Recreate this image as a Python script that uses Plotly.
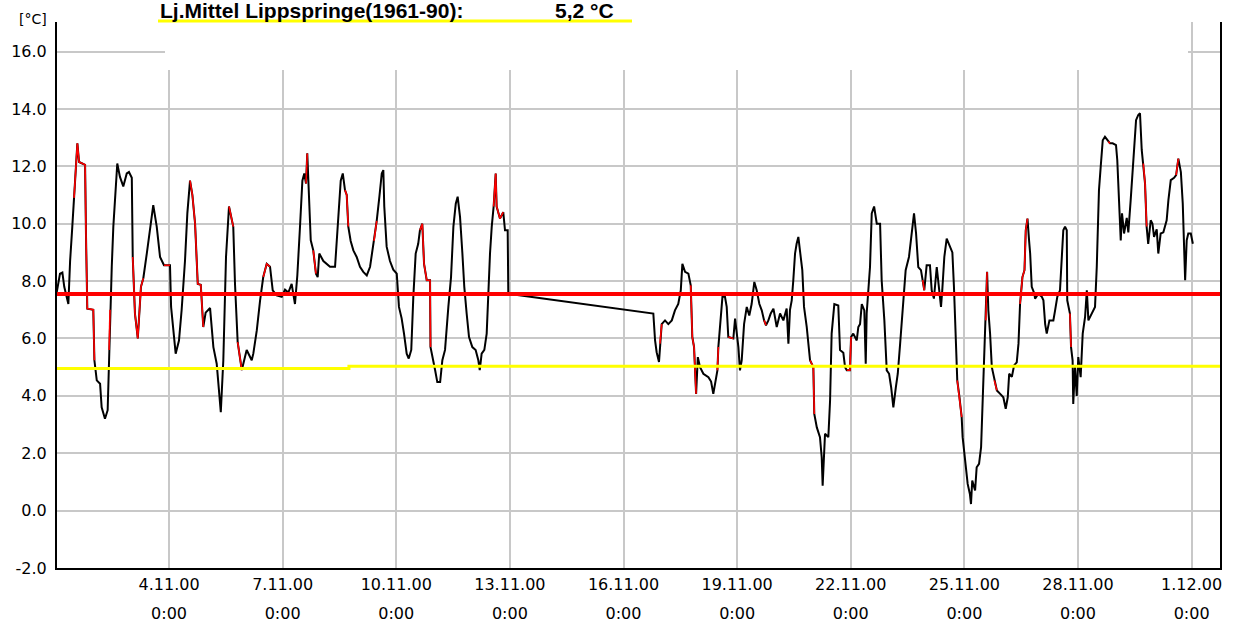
import pandas as pd
import plotly.graph_objects as go

START = pd.Timestamp("2000-11-01 00:00")
X_RANGE = ["2000-11-01 01:00", "2000-12-01 18:00"]
Y_RANGE = [-2.0, 17.03]

# hourly temperature record: hours after 1.11.2000 0:00
hours = [
    0.8, 2.9, 4.4, 5.6, 8.2, 9.3, 10.7, 11.8, 12.9, 13.9,
    15.0, 18.8, 19.4, 20.2, 24.0, 24.7, 26.2, 28.3, 29.3, 31.4,
    33.1, 34.0, 34.6, 35.7, 36.7, 37.8, 39.2, 40.9, 43.0, 45.2,
    46.6, 48.4, 49.0, 50.4, 52.2, 54.2, 55.7, 57.9, 60.4, 62.0,
    64.2, 66.3, 68.8, 72.6, 73.3, 75.2, 76.2, 78.3, 80.0, 82.1,
    83.6, 85.3, 86.8, 88.5, 90.2, 92.1, 93.7, 95.2, 98.0, 100.1,
    102.2, 104.8, 106.4, 108.1, 110.0, 112.7, 113.8, 115.5, 118.1, 121.2,
    124.4,
    125.4, 127.6, 129.7, 131.7, 133.9, 136.0, 137.7, 140.2, 143.4, 145.5,
    147.6, 149.7, 151.8, 153.3, 155.0, 156.5, 157.7, 158.8, 159.6, 160.9,
    161.8, 163.4, 165.1, 166.2, 167.2, 169.8, 171.9, 174.0, 177.2, 178.3,
    179.3, 180.8, 182.1, 183.5, 184.6, 185.6, 187.1, 188.8, 190.9, 193.0,
    195.1, 197.3, 199.4, 201.9, 203.6, 205.3, 206.8, 207.8, 208.4, 209.9,
    212.0, 214.1, 216.3, 217.7, 219.4, 220.9, 222.6, 223.9, 225.5, 226.8,
    228.3, 229.9, 231.0, 232.5, 233.6, 235.3, 237.4, 237.7, 239.1, 240.6,
    242.0, 243.8, 245.2, 246.9,
    249.0, 250.7, 252.2, 253.7, 254.9, 256.4, 257.9, 259.1, 260.6, 262.1,
    264.2, 266.3, 268.0, 268.9, 270.1, 271.8, 273.3, 274.3, 275.4, 276.5,
    277.7, 279.0, 279.6, 281.7, 283.8, 284.9, 286.6, 287.0,
    378.9, 380.0, 381.0, 382.5, 383.1, 384.2, 386.3, 388.4, 390.6, 392.6,
    394.7, 396.3, 397.3, 399.0, 401.1, 402.6, 403.6, 404.7, 406.0, 407.1,
    408.5, 410.6, 413.8, 415.5, 416.9, 418.5, 419.5, 420.1, 421.2, 422.7,
    424.3, 425.4, 426.4, 429.6, 430.7, 432.8, 433.8, 434.9, 436.4, 438.1,
    439.7, 441.2, 442.9, 444.4, 446.1, 447.6, 449.1, 450.3, 451.8, 453.3,
    455.0, 457.1, 459.2, 461.3, 463.4, 464.5, 465.5, 466.6, 467.6, 468.7,
    469.7, 470.8, 471.8, 473.3, 474.4, 476.1, 478.2, 480.3, 480.9, 482.5,
    484.5, 485.6, 486.2, 487.7, 489.8, 490.9, 491.9, 493.6, 496.1,
    497.2, 499.3, 500.4, 501.5, 503.5, 504.2, 505.6, 507.8, 508.8, 509.9,
    511.0, 512.6, 513.5, 514.1, 516.2, 517.3, 518.8, 520.5, 522.6, 523.6,
    525.3, 526.8, 528.3, 529.6, 531.0, 532.6, 533.8, 535.3, 537.4, 538.8,
    540.9, 542.6, 544.1, 545.4, 546.8, 548.5, 549.6, 550.6, 552.1, 554.2,
    555.3, 556.7, 558.5, 559.9, 561.2, 562.0, 563.3, 564.8, 566.9, 568.4,
    569.4, 570.5, 571.5, 572.8, 574.3, 574.9, 576.4, 578.1, 579.5, 580.2,
    581.0, 582.8, 583.8, 585.3, 586.6, 587.4, 588.5, 589.6, 590.4, 591.2,
    592.3, 593.4, 595.0, 596.6, 598.7, 600.7, 602.2, 603.5, 604.4, 606.1,
    607.5, 609.2, 610.3, 611.3, 612.8, 614.1, 614.9, 616.0, 617.0, 617.7,
    618.7, 620.4,
    620.8, 622.9, 625.1, 626.1, 627.2, 628.2, 629.9, 632.4, 633.5, 634.9,
    636.6, 637.7, 638.7, 639.8, 640.9, 641.2, 642.9, 643.6, 644.6, 645.0,
    646.1, 647.2, 648.2, 649.7, 651.0, 652.5, 653.6, 654.6, 656.7, 658.8,
    659.9, 661.3, 662.4, 663.7, 665.1, 667.2, 668.3, 670.0, 672.1, 672.9,
    674.2, 675.1, 675.9, 677.2, 678.9, 679.9, 681.4, 683.0, 684.8, 686.2,
    687.3, 688.4, 689.4, 690.5, 691.5, 692.5, 694.1, 695.2, 696.2, 697.9,
    698.9, 700.4, 702.1, 704.2, 705.3, 706.8, 708.9, 710.2, 711.6, 713.2,
    714.4, 715.2, 715.9, 716.9, 717.9, 719.5, 720.8,
]

temps = [
    7.6, 8.26, 8.3, 7.8, 7.2, 8.7, 9.9, 10.9, 11.9, 12.8,
    12.15, 12.05, 9.5, 7.04, 7.0, 5.24, 4.54, 4.42, 3.6, 3.2,
    3.5, 5.6, 7.0, 8.5, 9.9, 10.76, 12.1, 11.63, 11.3, 11.75,
    11.8, 11.6, 8.84, 6.87, 6.0, 7.8, 8.1, 8.96, 10.1, 10.65,
    9.9, 8.84, 8.55, 8.55, 7.1, 6.05, 5.47, 5.93, 7.0, 8.7,
    10.36, 11.5, 11.0, 10.0, 7.9, 7.87, 6.4, 6.9, 7.06, 5.7,
    5.12, 3.43, 5.24, 8.84, 10.6, 9.9, 7.9, 5.87, 4.9, 5.6,
    5.24,
    5.47, 6.28, 7.33, 8.14, 8.6, 8.5, 7.68, 7.5, 7.45, 7.7,
    7.6, 7.9, 7.2, 8.2, 9.9, 11.5, 11.75, 11.4, 12.45, 10.94,
    9.42, 9.07, 8.26, 8.14, 8.96, 8.7, 8.6, 8.5, 8.5, 9.5,
    10.47, 11.5, 11.75, 11.17, 11.0, 9.9, 9.4, 9.07, 8.84, 8.5,
    8.32, 8.2, 8.5, 9.4, 10.1, 10.94, 11.75, 11.87, 10.6, 9.2,
    8.7, 8.4, 8.26, 7.1, 6.7, 6.17, 5.47, 5.3, 5.6, 7.45,
    8.96, 9.3, 9.77, 10.0, 8.6, 8.03, 8.03, 5.7, 5.35, 4.9,
    4.48, 4.48, 5.24, 5.6,
    7.1, 8.14, 9.9, 10.7, 10.94, 10.24, 8.96, 7.8, 6.87, 6.05,
    5.7, 5.6, 5.24, 4.9, 5.47, 5.6, 6.17, 7.56, 8.96, 9.9,
    10.6, 11.75, 10.6, 10.18, 10.4, 9.77, 9.77, 7.56,
    6.87, 5.93, 5.52, 5.18, 5.82, 6.5, 6.63, 6.5, 6.63, 6.98,
    7.2, 7.68, 8.6, 8.32, 8.26, 7.85, 6.05, 5.7, 4.07, 5.35,
    5.0, 4.77, 4.65, 4.5, 4.07, 4.54, 4.89, 5.7, 6.5, 7.45,
    7.45, 7.1, 6.05, 6.0, 6.69, 5.7, 4.89, 5.24, 6.5, 7.1,
    6.8, 7.2, 7.97, 7.68, 7.2, 6.98, 6.63, 6.46, 6.63, 6.87,
    7.04, 6.4, 6.87, 6.63, 7.04, 5.82, 7.0, 7.33, 8.03, 8.96,
    9.3, 9.54, 9.07, 8.38, 7.1, 6.4, 5.24, 5.0, 3.37, 2.9,
    2.56, 1.86, 0.87, 2.68, 2.56, 3.84, 6.17, 7.2, 7.15,
    5.6, 5.5, 5.0, 4.89, 4.89, 6.05, 6.17, 5.93, 6.4, 6.5,
    7.2, 6.98, 5.12, 6.87, 8.49, 10.36, 10.6, 10.0, 10.0, 8.03,
    6.63, 4.89, 4.77, 4.3, 3.6, 4.3, 4.77, 5.82, 7.2, 8.38,
    8.84, 9.66, 10.36, 9.66, 8.49, 8.38, 8.03, 7.68, 8.55, 8.55,
    7.68, 7.39, 8.49, 7.68, 7.1, 7.68, 8.84, 9.48, 9.19, 9.0,
    7.8, 5.93, 4.54, 4.0, 3.26, 2.56, 1.75, 0.93, 0.58, 0.23,
    1.05, 0.7, 1.51, 1.63, 2.21, 3.37, 4.89, 6.63, 8.32, 6.98,
    6.17, 5.0, 4.54, 4.19, 4.07, 3.95, 3.55, 3.95, 4.77, 4.66,
    5.06, 5.17, 5.82, 7.2, 8.14, 8.38, 9.77, 10.18, 9.42, 8.96,
    7.8, 7.56,
    7.39, 7.56, 7.45, 7.33, 6.5, 6.17, 6.63, 6.63, 6.98, 7.45,
    7.68, 8.96, 9.77, 9.9, 9.77, 7.33, 6.87, 5.7, 5.24, 3.72,
    5.0, 4.0, 5.35, 4.65, 6.17, 6.75, 7.68, 6.63, 6.87, 7.1,
    8.49, 11.17, 11.98, 12.91, 13.03, 12.86, 12.8, 12.8, 12.74, 12.22,
    10.82, 9.42, 10.36, 9.66, 10.2, 9.7, 10.82, 12.22, 13.61, 13.79,
    13.85, 12.57, 12.1, 11.4, 9.9, 9.3, 10.12, 10.0, 9.54, 9.8,
    8.96, 9.66, 9.7, 10.12, 10.82, 11.52, 11.6, 11.69, 12.27, 11.8,
    10.7, 8.73, 8.03, 9.42, 9.66, 9.66, 9.3,
]

# time spans (hours) where the curve is drawn in red
red_ranges = [
    (11.8, 24.7), (34.0, 34.6), (49.0, 55.7), (68.8, 72.6), (85.3, 93.7),
    (110.0, 112.7), (115.5, 118.1), (131.7, 136.0), (158.8, 159.6),
    (163.4, 165.1), (183.5, 185.6), (201.9, 203.6), (231.0, 237.7),
    (277.7, 283.8), (383.1, 384.2), (402.6, 406.0), (419.5, 420.1),
    (426.4, 429.6), (449.1, 450.3), (478.2, 480.9), (501.5, 504.2),
    (549.6, 550.6), (571.5, 574.3), (589.6, 590.4), (595.0, 596.6),
    (611.3, 616.0), (642.9, 643.6), (667.2, 668.3), (689.4, 691.5),
    (710.2, 711.6),
]

period_mean = 7.55
clim_times = ["2000-11-01 01:00", "2000-11-08 18:00", "2000-12-01 18:00"]
clim_values = [4.95, 5.03, 5.03]

title_label = "Lj.Mittel Lippspringe(1961-90):"
title_value = "5,2 °C"
y_unit = "[°C]"
tick_dates = ["2000-11-04", "2000-11-07", "2000-11-10", "2000-11-13", "2000-11-16",
              "2000-11-19", "2000-11-22", "2000-11-25", "2000-11-28", "2000-12-01"]
y_ticks = [-2, 0, 2, 4, 6, 8, 10, 12, 14, 16]

assert len(hours) == len(temps)

times = [START + pd.Timedelta(hours=h) for h in hours]

red_x, red_y = [], []
for a, b in red_ranges:
    for t, h, v in zip(times, hours, temps):
        if a - 0.05 <= h <= b + 0.05:
            red_x.append(t)
            red_y.append(v)
    red_x.append(None)
    red_y.append(None)

tick_ts = [pd.Timestamp(d) for d in tick_dates]
line1 = [f"{d.day}.{d.month}.{d:%y}" for d in tick_ts]
line2 = [f"{d.hour}:{d:%M}" for d in tick_ts]

FONT = "DejaVu Sans"
TICK_SIZE = 16

fig = go.Figure()
fig.add_trace(go.Scatter(x=times, y=temps, mode="lines",
                         line=dict(color="#000000", width=2), hoverinfo="skip"))
fig.add_trace(go.Scatter(x=red_x, y=red_y, mode="lines", connectgaps=False,
                         line=dict(color="#FF0000", width=1.6), hoverinfo="skip"))
fig.add_trace(go.Scatter(x=clim_times, y=clim_values, mode="lines",
                         line=dict(color="#FFFF00", width=3, shape="hv"), hoverinfo="skip"))
fig.add_trace(go.Scatter(x=X_RANGE, y=[period_mean, period_mean], mode="lines",
                         line=dict(color="#FF0000", width=4), hoverinfo="skip"))
# carrier for second tick-label row
fig.add_trace(go.Scatter(x=X_RANGE, y=[None, None], xaxis="x2", mode="lines",
                         hoverinfo="skip"))

W, H = 1239, 625
ml, mr, mt, mb = 57, 19, 22, 57
pw, ph = W - ml - mr, H - mt - mb


def px_x(p):
    return (p - ml) / pw


def px_y(p):
    return 1 - (p - mt) / ph


fig.update_layout(
    width=W, height=H, showlegend=False,
    margin=dict(l=ml, r=mr, t=mt, b=mb, autoexpand=False),
    paper_bgcolor="white", plot_bgcolor="white",
    font=dict(family=FONT, size=TICK_SIZE, color="black"),
    xaxis=dict(type="date", range=X_RANGE, tickvals=tick_ts, ticktext=line1,
               showgrid=True, gridcolor="#C8C8C8", gridwidth=2,
               showline=True, linecolor="black", linewidth=2, mirror=False,
               ticks="", ticklabelstandoff=1, zeroline=False, automargin=False,
               tickfont=dict(family=FONT, size=TICK_SIZE)),
    xaxis2=dict(type="date", range=X_RANGE, overlaying="x", anchor="y", side="bottom",
                tickvals=tick_ts, ticktext=line2, showgrid=False, showline=False,
                ticks="", ticklabelstandoff=34, zeroline=False, automargin=False,
                tickfont=dict(family=FONT, size=TICK_SIZE)),
    yaxis=dict(range=Y_RANGE, tickvals=y_ticks, ticktext=[f"{v:.1f}" for v in y_ticks],
               showgrid=True, gridcolor="#C8C8C8", gridwidth=2,
               showline=True, linecolor="black", linewidth=2, mirror=True,
               ticks="", ticklabelstandoff=5, zeroline=False, automargin=False,
               tickfont=dict(family=FONT, size=TICK_SIZE)),
)

# blank box behind the title (hides grid there)
fig.add_shape(type="rect", xref="paper", yref="paper", layer="above",
              x0=px_x(165), x1=px_x(1188), y0=px_y(70), y1=px_y(-5),
              fillcolor="white", line=dict(width=0))
# yellow marker line under the title
fig.add_shape(type="line", xref="paper", yref="paper", layer="above",
              x0=px_x(158), x1=px_x(632), y0=px_y(21), y1=px_y(21),
              line=dict(color="#FFFF00", width=3))

fig.add_annotation(xref="paper", yref="paper", x=px_x(158), y=px_y(10),
                   xanchor="left", yanchor="middle", showarrow=False,
                   text=f"<b>{title_label}</b>",
                   font=dict(family="Liberation Sans", size=21, color="black"))
fig.add_annotation(xref="paper", yref="paper", x=px_x(553), y=px_y(10),
                   xanchor="left", yanchor="middle", showarrow=False,
                   text=f"<b>{title_value}</b>",
                   font=dict(family="Liberation Sans", size=21, color="black"))
fig.add_annotation(xref="paper", yref="paper", x=px_x(49), y=px_y(19),
                   xanchor="right", yanchor="middle", showarrow=False,
                   text=y_unit, font=dict(family=FONT, size=14, color="black"))

# remove the browser's default page margin so the figure sits at the window corner
fig.write_html("out.html", config={"displayModeBar": False},
               post_script="document.body.style.margin='0px';")
